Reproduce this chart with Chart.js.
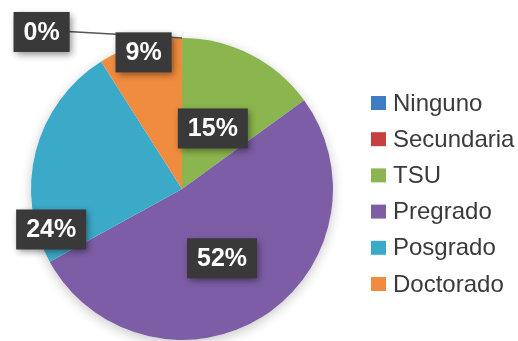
<!DOCTYPE html>
<html lang="es">
<head>
    <meta charset="UTF-8">
    <title>Nivel académico</title>
    <script src="https://cdn.jsdelivr.net/npm/chart.js"></script>
    <style>
        body {
            margin: 0;
            background: #ffffff;
            font-family: "Liberation Sans", Arial, sans-serif;
        }
        .chart-container {
            width: 518px;
            height: 341px;
        }
    </style>
</head>
<body>

    <div class="chart-container">
        <canvas id="nivelChart" width="518" height="341"></canvas>
    </div>

    <script>
        // Nivel académico (porcentajes)
        const categories = ["Ninguno", "Secundaria", "TSU", "Pregrado", "Posgrado", "Doctorado"];
        const percentages = [0, 0, 15, 52, 24, 9];
        const colors = ["#3c7dc4", "#c7403f", "#8bb54e", "#7d5da6", "#3ba9c8", "#f08c3f"];

        // where each value box sits: [fraction of radius, angle shift in degrees], null = no box
        const boxPlacement = [[1.395, -41.8], null, [0.45, 0], [0.53, 2.4], [0.907, -31.6], [0.94, 0.5]];

        // soft shadow under the whole pie
        const pieShadow = {
            id: "pieShadow",
            beforeDatasetsDraw(chart) {
                const arc = chart.getDatasetMeta(0).data[0];
                const ctx = chart.ctx;
                ctx.save();
                ctx.shadowColor = "rgba(0,0,0,0.22)";
                ctx.shadowBlur = 12;
                ctx.shadowOffsetY = 3;
                ctx.fillStyle = "#ffffff";
                ctx.beginPath();
                ctx.arc(arc.x, arc.y, arc.outerRadius, 0, Math.PI * 2);
                ctx.fill();
                ctx.restore();
            }
        };

        // dark value boxes with white percentages
        const valueBoxes = {
            id: "valueBoxes",
            afterDatasetsDraw(chart) {
                const ctx = chart.ctx;
                const meta = chart.getDatasetMeta(0);
                ctx.save();
                ctx.font = "bold 25px 'Liberation Sans', Arial, sans-serif";
                ctx.textAlign = "center";
                ctx.textBaseline = "middle";

                const boxes = [];
                meta.data.forEach((arc, i) => {
                    const place = boxPlacement[i];
                    if (!place) return;
                    const mid = (arc.startAngle + arc.endAngle) / 2 + place[1] * Math.PI / 180;
                    const r = arc.outerRadius * place[0];
                    boxes.push({
                        i: i,
                        x: arc.x + Math.cos(mid) * r,
                        y: arc.y + Math.sin(mid) * r,
                        text: percentages[i] + "%",
                        outside: place[0] > 1,
                        edgeX: arc.x + Math.cos(arc.startAngle) * arc.outerRadius,
                        edgeY: arc.y + Math.sin(arc.startAngle) * arc.outerRadius
                    });
                });

                // leader lines for boxes outside the pie
                boxes.filter(b => b.outside).forEach(b => {
                    ctx.strokeStyle = "#555555";
                    ctx.lineWidth = 1.5;
                    ctx.beginPath();
                    ctx.moveTo(b.x, b.y - 2);
                    ctx.lineTo(b.edgeX, b.edgeY);
                    ctx.stroke();
                });

                boxes.forEach(b => {
                    const w = ctx.measureText(b.text).width + 20;
                    const h = 40;
                    ctx.save();
                    ctx.shadowColor = "rgba(0,0,0,0.45)";
                    ctx.shadowBlur = 7;
                    ctx.shadowOffsetX = 2;
                    ctx.shadowOffsetY = 3;
                    ctx.fillStyle = "#393939";
                    ctx.fillRect(b.x - w / 2, b.y - h / 2, w, h);
                    ctx.restore();
                    ctx.fillStyle = "#ffffff";
                    ctx.fillText(b.text, b.x, b.y + 1);
                });
                ctx.restore();
            }
        };

        // legend on the right
        const sideLegend = {
            id: "sideLegend",
            afterDraw(chart) {
                const ctx = chart.ctx;
                ctx.save();
                ctx.font = "24px 'Liberation Sans', Arial, sans-serif";
                ctx.textBaseline = "middle";
                ctx.textAlign = "left";
                categories.forEach((name, i) => {
                    const y = 103 + i * 36.2;
                    ctx.fillStyle = colors[i];
                    ctx.fillRect(371, y - 7, 15, 14);
                    ctx.fillStyle = "#3a3a3a";
                    ctx.fillText(name, 393, y + 1);
                });
                ctx.restore();
            }
        };

        const ctx = document.getElementById("nivelChart").getContext("2d");
        new Chart(ctx, {
            type: "pie",
            data: {
                labels: categories,
                datasets: [{
                    data: percentages,
                    backgroundColor: colors,
                    borderWidth: 0
                }]
            },
            options: {
                responsive: false,
                animation: false,
                layout: {
                    padding: { left: 31, right: 185, top: 38, bottom: 1 }
                },
                plugins: {
                    legend: { display: false },
                    tooltip: { enabled: false }
                }
            },
            plugins: [pieShadow, valueBoxes, sideLegend]
        });
    </script>

</body>
</html>
